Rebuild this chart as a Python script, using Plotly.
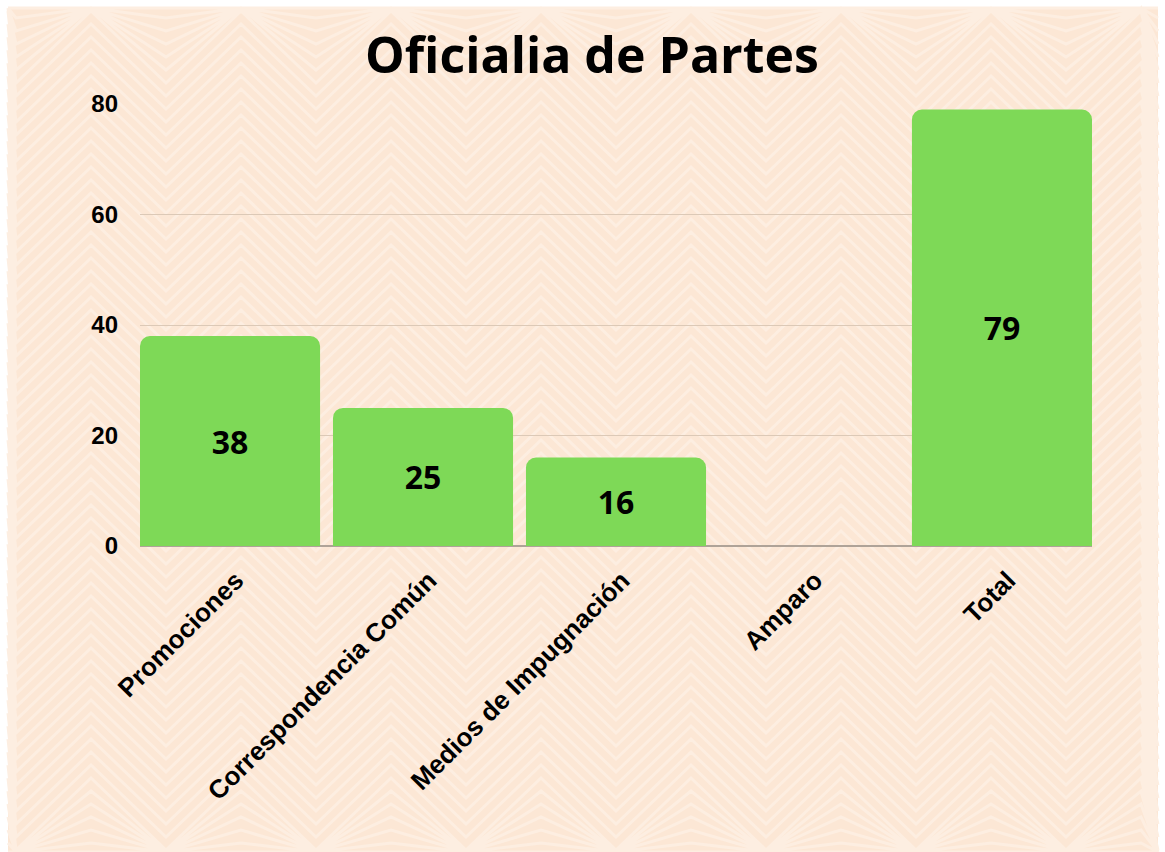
import plotly.graph_objects as go

categories = ["Promociones", "Correspondencia Común", "Medios de Impugnación", "Amparo", "Total"]
values = [38, 25, 16, 0, 79]
y_ticks = [0, 20, 40, 60, 80]

W, H = 1165, 852
ML, MR, MT, MB = 140, 73, 104, 306
BG = "#FCE7D5"
STRIPE = "#FDEEE1"
GREEN = "#7ED957"
GAP = 0.067

labels = [str(v) if v else "" for v in values]

fig = go.Figure(go.Bar(
    x=categories, y=values, text=labels,
    textposition="inside", insidetextanchor="middle",
    textfont=dict(family="Open Sans", size=32, color="black", weight="bold"),
    marker=dict(color=GREEN, cornerradius=10, line=dict(width=0)),
    hoverinfo="x+y", constraintext="none",
))

pw, ph = W - ML - MR, H - MT - MB
def px(x):
    return (x - ML) / pw
def py(y):
    return (H - MB - y) / ph

# background panel with white frame
shapes = [dict(type="rect", xref="paper", yref="paper", layer="below",
               x0=px(8), x1=px(1158), y0=py(852), y1=py(8),
               fillcolor=BG, line=dict(width=0))]

# subtle chevron pattern
half = 75
amp = 72
path = ""
y = -80
while y < 880:
    xs = list(range(8 - 67, 1160 + half, half))
    for i, xx in enumerate(xs):
        yy = y + (0 if i % 2 == 0 else amp)
        yy = min(max(yy, 8), 852)
        cmd = "M" if i == 0 else "L"
        path += f"{cmd}{px(max(min(xx, 1158), 8)):.5f},{py(yy):.5f} "
    y += 13
shapes.append(dict(type="path", xref="paper", yref="paper", layer="below",
                   path=path, line=dict(color=STRIPE, width=3)))

n = len(categories)
fig.update_layout(
    width=W, height=H,
    margin=dict(l=ML, r=MR, t=MT, b=MB, autoexpand=False),
    paper_bgcolor="white",
    plot_bgcolor="rgba(0,0,0,0)",
    bargap=GAP,
    showlegend=False,
    shapes=shapes,
    title=dict(text="<b>Oficialia de Partes</b>", x=592/W, xanchor="center",
               y=1 - 55/H, yanchor="middle",
               font=dict(family="Open Sans", size=50, color="black", weight=800)),
    xaxis=dict(tickangle=-45, showgrid=False, showline=False, zeroline=False,
               range=[-0.5 + GAP / 2, n - 0.5 - GAP / 2],
               tickfont=dict(family="Liberation Sans", size=26, color="black", weight="bold"),
               ticklabelstandoff=13, ticklabelshift=6, automargin=False),
    yaxis=dict(range=[0, 80], tickvals=y_ticks, showgrid=True, gridcolor="#DCC9B7",
               gridwidth=1.2, zeroline=True, zerolinecolor="#AFA398", zerolinewidth=2,
               showline=False, automargin=False,
               tickfont=dict(family="Liberation Sans", size=24, color="black", weight="bold"),
               ticklabelstandoff=21),
)

fig.write_html("out.html", config={"displayModeBar": False},
               post_script="document.body.style.margin='0';document.body.style.padding='0';")
